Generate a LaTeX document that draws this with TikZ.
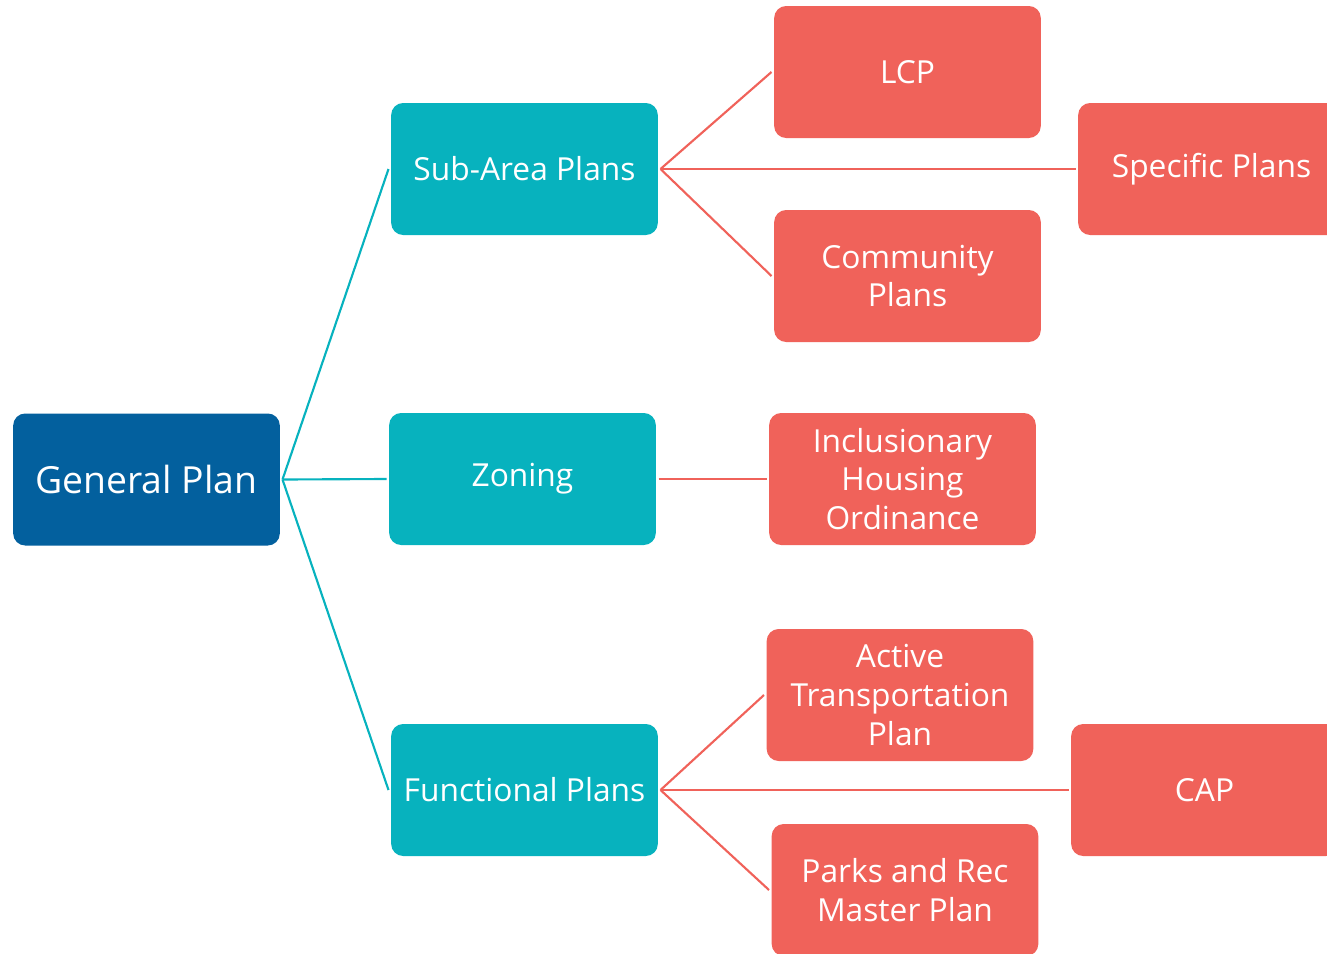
\documentclass[tikz,border=0pt]{standalone}
\usepackage{fontspec}
\setmainfont{Open Sans}

\definecolor{planblue}{RGB}{3,96,158}
\definecolor{planteal}{RGB}{7,178,190}
\definecolor{planred}{RGB}{240,98,90}

\begin{document}
\begin{tikzpicture}[x=0.75pt,y=0.75pt,yscale=-1,xscale=1,
  planbox/.style={rounded corners=9pt, minimum width=200pt, minimum height=99pt,
    text=white, align=center, font=\fontsize{23.8}{29}\selectfont, outer sep=2pt},
  topbox/.style={planbox, fill=planblue, font=\fontsize{28}{33}\selectfont},
  midbox/.style={planbox, fill=planteal},
  leafbox/.style={planbox, fill=planred},
  tealline/.style={draw=planteal, line width=1.6pt},
  redline/.style={draw=planred, line width=1.6pt}]
\useasboundingbox (0,0) rectangle (1327,953);
\clip (0,0) rectangle (1327,953);

% Boxes
\node[topbox] (gen) at (146.5,479.5) {General Plan};
\node[midbox] (sub) at (524.5,169) {Sub-Area Plans};
\node[midbox] (zon) at (522.5,479) {Zoning};
\node[midbox] (fun) at (524.5,790) {Functional Plans};
\node[leafbox] (lcp) at (907.5,72) {LCP};
\node[leafbox] (spe) at (1211.5,169) {Specific Plans};
\node[leafbox] (com) at (907.5,276) {Community\\Plans};
\node[leafbox] (iho) at (902.5,479) {Inclusionary\\Housing\\Ordinance};
\node[leafbox] (atp) at (900,695) {Active\\Transportation\\Plan};
\node[leafbox] (cap) at (1204.5,790) {CAP};
\node[leafbox] (par) at (905,890) {Parks and Rec\\Master Plan};

% Lines
\draw[tealline] (gen.east) -- (sub.west);
\draw[tealline] (gen.east) -- (zon.west);
\draw[tealline] (gen.east) -- (fun.west);
\draw[redline] (sub.east) -- (lcp.west);
\draw[redline] (sub.east) -- (spe.west);
\draw[redline] (sub.east) -- (com.west);
\draw[redline] (zon.east) -- (iho.west);
\draw[redline] (fun.east) -- (atp.west);
\draw[redline] (fun.east) -- (cap.west);
\draw[redline] (fun.east) -- (par.west);

\end{tikzpicture}
\end{document}
